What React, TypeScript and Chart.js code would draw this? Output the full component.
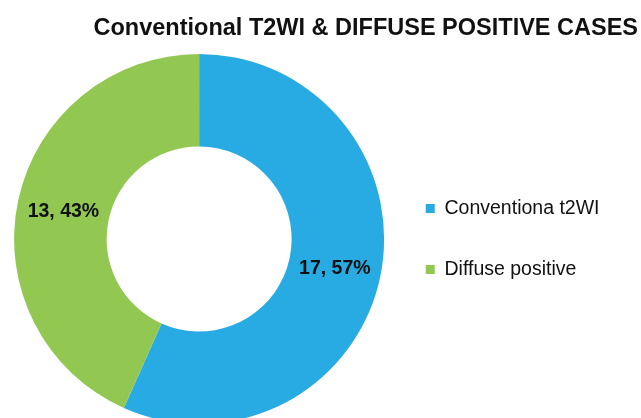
import React, { useEffect, useRef } from "react";
import { Chart, registerables } from "chart.js";

Chart.register(...registerables);

const TITLE = "Conventional T2WI & DIFFUSE POSITIVE CASES";
const categories = ["Conventiona t2WI", "Diffuse positive"];
const counts = [17, 13];
const percents = [57, 43];
const colors = ["#28ABE2", "#92C852"];

const FONT = "'Liberation Sans', Arial, Helvetica, sans-serif";

export default function App() {
  const ref = useRef<HTMLCanvasElement>(null);

  useEffect(() => {
    document.body.style.margin = "0";
    const canvas = ref.current;
    if (!canvas) return;

    const titlePlugin = {
      id: "rightTitle",
      afterDraw(chart: any) {
        const ctx = chart.ctx;
        ctx.save();
        ctx.font = `bold 23.5px ${FONT}`;
        ctx.fillStyle = "#111111";
        ctx.textAlign = "right";
        ctx.textBaseline = "alphabetic";
        ctx.fillText(TITLE, chart.width - 3, 34.5);
        ctx.restore();
      },
    };

    const labelPlugin = {
      id: "sliceLabels",
      afterDatasetsDraw(chart: any) {
        const ctx = chart.ctx;
        const meta = chart.getDatasetMeta(0);
        ctx.save();
        ctx.font = `bold 19.5px ${FONT}`;
        ctx.fillStyle = "#111111";
        ctx.textAlign = "center";
        ctx.textBaseline = "middle";
        meta.data.forEach((arc: any, i: number) => {
          const p = arc.tooltipPosition();
          ctx.fillText(`${counts[i]}, ${percents[i]}%`, p.x, p.y + 1);
        });
        ctx.restore();
      },
    };

    const chart = new Chart(canvas, {
      type: "doughnut",
      data: {
        labels: categories,
        datasets: [
          {
            data: counts,
            backgroundColor: colors,
            borderWidth: 0,
          },
        ],
      },
      options: {
        responsive: false,
        animation: false,
        cutout: "50%",
        layout: { padding: { left: 14, right: 31.5, top: 54, bottom: 6 } },
        plugins: {
          title: { display: false },
          tooltip: { enabled: false },
          legend: {
            display: true,
            position: "right",
            align: "center",
            labels: {
              boxWidth: 9,
              boxHeight: 9,
              padding: 41.5,
              color: "#111111",
              font: { family: FONT, size: 19.5 },
            },
          },
        },
      },
      plugins: [titlePlugin, labelPlugin],
    });

    return () => chart.destroy();
  }, []);

  return (
    <div
      style={{
        position: "absolute",
        left: 0,
        top: 0,
        width: 641,
        height: 418,
        overflow: "hidden",
        background: "#ffffff",
      }}
    >
      <canvas ref={ref} width={641} height={430} style={{ display: "block" }} />
    </div>
  );
}
